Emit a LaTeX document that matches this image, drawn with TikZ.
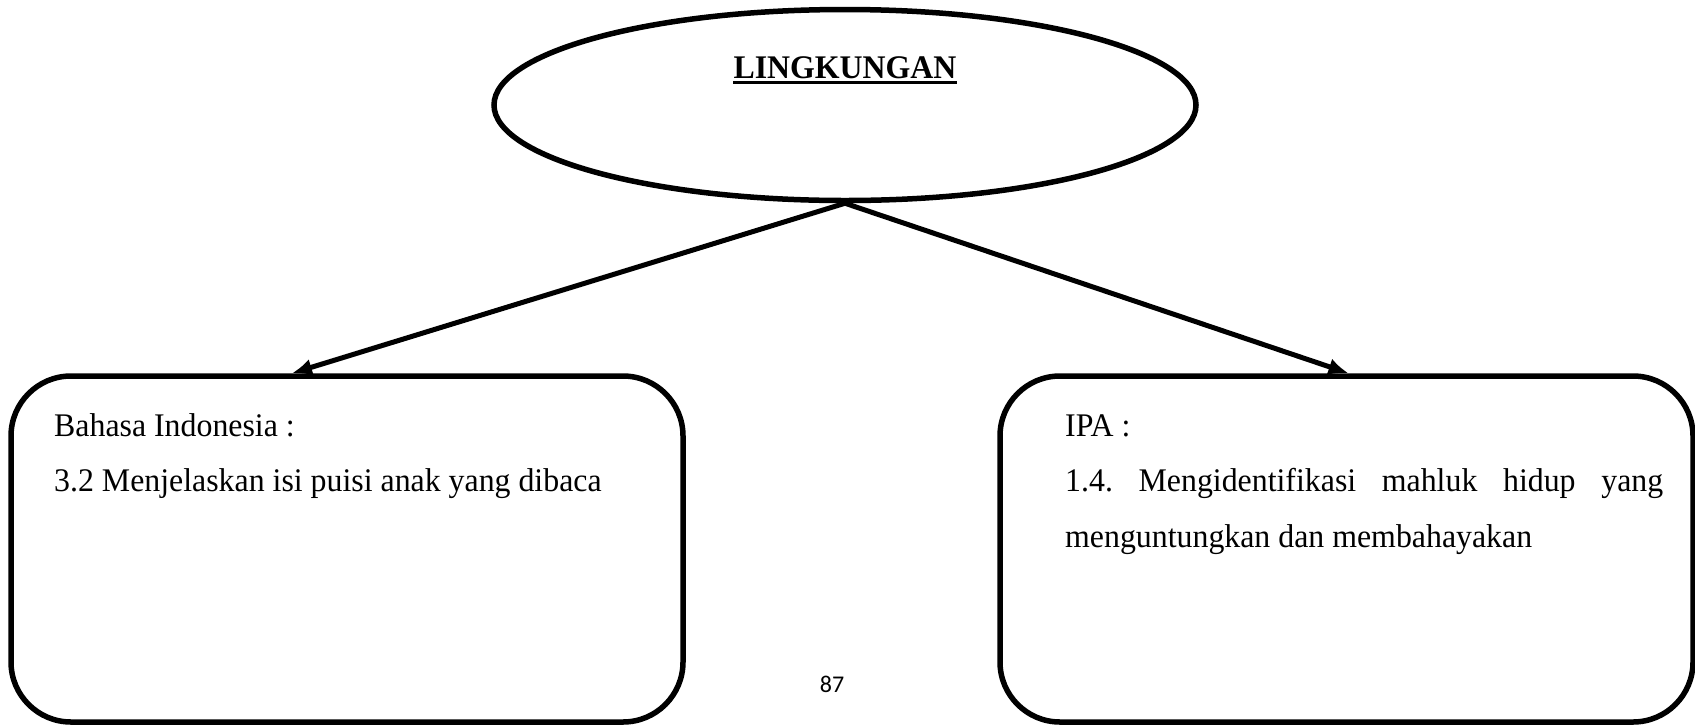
\documentclass[tikz,border=0pt]{standalone}
\usepackage{fontspec}
\setmainfont{Liberation Serif}[FakeStretch=0.965]
\newfontfamily\pagefont{Carlito}
\usetikzlibrary{arrows.meta,positioning,shapes.geometric}
\tikzset{
  linkarrow/.style={-{Latex[length=20pt,width=17pt]},line width=5pt,draw=black},
  topicshape/.style={ellipse,draw=black,line width=5.5pt,minimum width=702pt,minimum height=191pt,inner sep=0pt},
  subjectbox/.style={draw=black,line width=5.5pt,rounded corners=60pt,inner sep=0pt},
  boxtext/.style={anchor=base west,inner sep=0pt,font=\fontsize{33}{40}\selectfont},
  titletext/.style={anchor=base,inner sep=0pt,font=\fontsize{33}{40}\selectfont\bfseries},
  pagenum/.style={inner sep=0pt,font=\pagefont\fontsize{24}{28}\selectfont}
}
\frenchspacing
\begin{document}
\begin{tikzpicture}[x=1pt,y=-1pt]
  \useasboundingbox (0,0) rectangle (1695,724);
  \node[topicshape] (topic) at (845,105) {};
  \node[titletext] (title) at (845,78) {LINGKUNGAN};
  \draw[line width=3pt] ([yshift=-4.5pt]title.base west) -- ([yshift=-4.5pt]title.base east);

  \node[subjectbox,minimum width=672pt,minimum height=346pt] (bahasa) at (347,549) {};
  \node[subjectbox,minimum width=693pt,minimum height=346pt] (ipa) at (1346.5,549) {};

  \draw[linkarrow] (topic.south) -- ([xshift=-55pt]bahasa.north);
  \draw[linkarrow] (topic.south) -- ([xshift=2pt]ipa.north);

  \node[boxtext] (bahasahead) at (54,436) {Bahasa Indonesia :};
  \node[boxtext] (bahasakd) at (54,491) {3.2 Menjelaskan isi puisi anak yang dibaca};
  \node[boxtext] (ipahead) at (1065,436) {IPA :};
  \node[boxtext] (ipakd) at (1065,491) {\makebox[598pt][s]{1.4. Mengidentifikasi mahluk hidup yang}};
  \node[boxtext] (ipakdb) at (1065,547) {menguntungkan dan membahayakan};

  \node[pagenum] (page) at (832,684) {87};
\end{tikzpicture}
\end{document}
